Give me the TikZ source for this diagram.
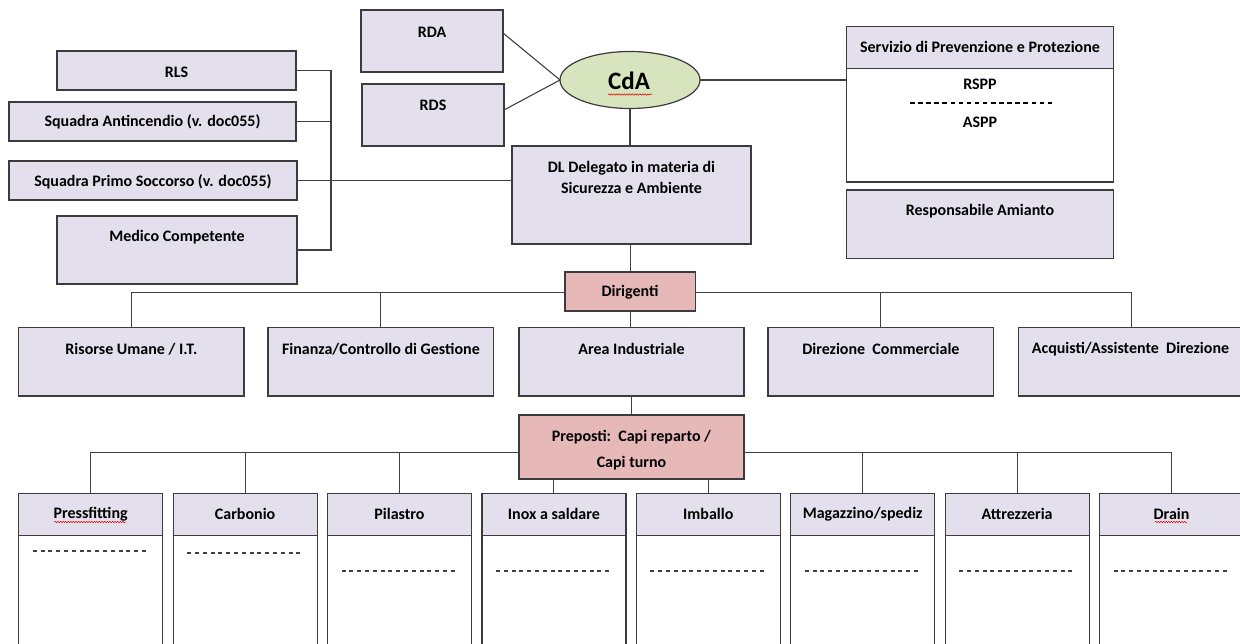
\documentclass[tikz,border=0pt]{standalone}
\usepackage{fontspec}
\setmainfont{Carlito}
\usetikzlibrary{calc,shapes.geometric,decorations.pathmorphing}
\definecolor{lav}{HTML}{E4DFEC}
\definecolor{pinkfill}{HTML}{E6B9B8}
\definecolor{greenfill}{HTML}{D7E4BD}
\definecolor{bord}{HTML}{3C3C3C}
\definecolor{conn}{HTML}{404040}
\newcommand\mybox[6]{\node[#6, minimum width={(#4)-(#2)}, minimum height={(#5)-(#3)}] (#1) at (#2,#3) {};}
\tikzset{
  basebox/.style={draw=bord, line width=1.2pt, inner sep=0pt, outer sep=0pt, anchor=north west, shape=rectangle},
  lavbox/.style={basebox, fill=lav},
  pinkbox/.style={basebox, fill=pinkfill},
  whitebox/.style={basebox, fill=white},
  lbl/.style={font=\bfseries\fontsize{16}{21}\selectfont, inner sep=0pt, align=center, text=black},
  lblwide/.style={lbl, font=\bfseries\fontsize{16}{26}\selectfont},
  link/.style={draw=conn, line width=1.1pt},
  dashline/.style={draw=conn, line width=1.1pt, dash pattern=on 4pt off 3.8pt},
  spdash/.style={draw=black, line width=1.6pt, dash pattern=on 4.5pt off 3.6pt},
  squiggle/.style={draw=red!85!black, line width=0.5pt, decorate, decoration={snake, amplitude=0.7pt, segment length=2.6pt}}
}
\begin{document}
\begin{tikzpicture}[x=1pt,y=-1pt]
\path[use as bounding box] (0,0) rectangle (1240,644);
\clip (0,0) rectangle (1240,644);

% ---- left group
\mybox{rls}{57}{51}{296}{90}{lavbox}
\mybox{antinc}{9}{102}{296}{141}{lavbox}
\mybox{primo}{9}{161}{297}{200}{lavbox}
\mybox{medico}{57}{216}{297}{284}{lavbox}
\node[lbl] (trls) at (176.5,72) {RLS};
\node[lbl] (tantinc) at (152.5,122) {Squadra Antincendio (v. doc055)};
\node[lbl] (tprimo) at (153,182) {Squadra Primo Soccorso (v. doc055)};
\node[lbl] (tmedico) at (177,237.5) {Medico Competente};

% ---- top group
\mybox{rda}{361}{10}{503}{72}{lavbox}
\mybox{rds}{362}{84}{504}{146}{lavbox}
\node[lbl] (trda) at (432,32) {RDA};
\node[lbl] (trds) at (433,105) {RDS};
\node[draw=bord, line width=1.2pt, fill=greenfill, ellipse, minimum width=140pt, minimum height=57pt, inner sep=0pt, outer sep=0pt] (cda) at (630,80) {};
\node[font=\bfseries\fontsize{25}{30}\selectfont, inner sep=0pt] (tcda) at (629,81) {CdA};
\mybox{dl}{512}{146}{751}{244}{lavbox}
\node[lbl] (tdl) at (631.5,177.5) {DL Delegato in materia di\\Sicurezza e Ambiente};

% ---- SPP
\mybox{spp}{846.7}{26.7}{1113.3}{182}{whitebox}
\mybox{spph}{846.7}{26.7}{1113.3}{68.3}{lavbox}
\node[lbl] (tspp) at (980,46.7) {Servizio di Prevenzione e Protezione};
\node[lbl] (trspp) at (980,84.3) {RSPP};
\node[lbl] (taspp) at (980,122.3) {ASPP};
\path[spdash] (910,103.3) -- (1052.7,103.3);
\mybox{amianto}{846.7}{190}{1113.3}{258.3}{lavbox}
\node[lbl] (tamianto) at (980,211) {Responsabile Amianto};

% ---- dirigenti
\mybox{dirig}{565}{272}{695.5}{311}{pinkbox}
\node[lbl] (tdirig) at (630,292) {Dirigenti};

\mybox{hr}{18.7}{327.7}{244}{396}{lavbox}
\mybox{fin}{268}{327.7}{493.7}{396}{lavbox}
\mybox{area}{519}{327.7}{744}{396}{lavbox}
\mybox{dc}{768}{327.7}{993.7}{396}{lavbox}
\mybox{acq}{1018.3}{327.7}{1244}{396}{lavbox}
\node[lbl] (thr) at (131.4,349) {Risorse Umane / I.T.};
\node[lbl] (tfin) at (380.9,349) {Finanza/Controllo di Gestione};
\node[lbl] (tarea) at (631.5,349) {Area Industriale};
\node[lbl] (tdc) at (880.9,349) {Direzione\ \ Commerciale};
\node[lbl] (tacq) at (1130.5,349) {Acquisti/Assistente\ \ Direzione};

\mybox{prep}{519}{415}{744}{479}{pinkbox}
\node[lblwide] (tprep) at (631.5,450) {Preposti:\ \ Capi reparto /\\Capi turno};

% ---- reparti
\foreach \i/\nm/\dy in {0/Pressfitting/551, 1/Carbonio/553, 2/Pilastro/571, 3/Inox a saldare/571, 4/Imballo/571, 5/Magazzino\slash spediz/571, 6/Attrezzeria/571, 7/Drain/571}{
  \pgfmathsetmacro\xa{18.7+154.4*\i}
  \pgfmathsetmacro\xb{\xa+144}
  \pgfmathsetmacro\xc{\xa+72}
  \pgfmathsetmacro\da{\xa+14}
  \pgfmathsetmacro\db{\xa+130}
  \pgfmathtruncatemacro\k{\i+1}
  \mybox{p\k}{\xa}{493.5}{\xb}{700}{whitebox}
  \mybox{p\k h}{\xa}{493.5}{\xb}{535.5}{lavbox}
  \node[lbl] (tp\k) at (\xc,514) {\nm};
  \path[dashline] (\da,\dy) -- (\db,\dy);
}

% spell-check squiggles
\path[squiggle] (608,94.5) -- (652,94.5);
\path[squiggle] (54.5,522) -- (126,522);
\path[squiggle] (1155,522) -- (1187,522);

% ---- connectors
\coordinate (busA) at (0,292.7);
\coordinate (busB) at (0,452.7);
\draw[link] (rls.east) -- ++(35,0) |- (medico.east);
\draw[link] (antinc.east) -- ++(35,0);
\draw[link] (primo.east) -- (primo.east -| dl.west);
\draw[link] ([yshift=8pt]rda.east) -- (cda.west);
\draw[link] ([yshift=5pt]rds.east) -- (cda.west);
\draw[link] (cda.east) -- (cda.east -| spp.west);
\draw[link] (cda.south) -- (cda.south |- dl.north);
\draw[link] (dl.south -| dirig.north) -- (dirig.north);
\draw[link] (dirig.west |- busA) -| (hr.north);
\draw[link] (dirig.west |- busA) -| (fin.north);
\draw[link] (dirig.east |- busA) -| (dc.north);
\draw[link] (dirig.east |- busA) -| (acq.north);
\draw[link] (dirig.south) -- (dirig.south |- area.north);
\draw[link] (area.south) -- (area.south |- prep.north);
\draw[link] (p1h.north) |- (prep.west |- busB);
\draw[link] (p2h.north) -- (p2h.north |- busB);
\draw[link] (p3h.north) -- (p3h.north |- busB);
\draw[link] (p8h.north) |- (prep.east |- busB);
\draw[link] (p6h.north) -- (p6h.north |- busB);
\draw[link] (p7h.north) -- (p7h.north |- busB);
\draw[link] (p4h.north) -- (p4h.north |- prep.south);
\draw[link] (p5h.north) -- (p5h.north |- prep.south);
\end{tikzpicture}
\end{document}
